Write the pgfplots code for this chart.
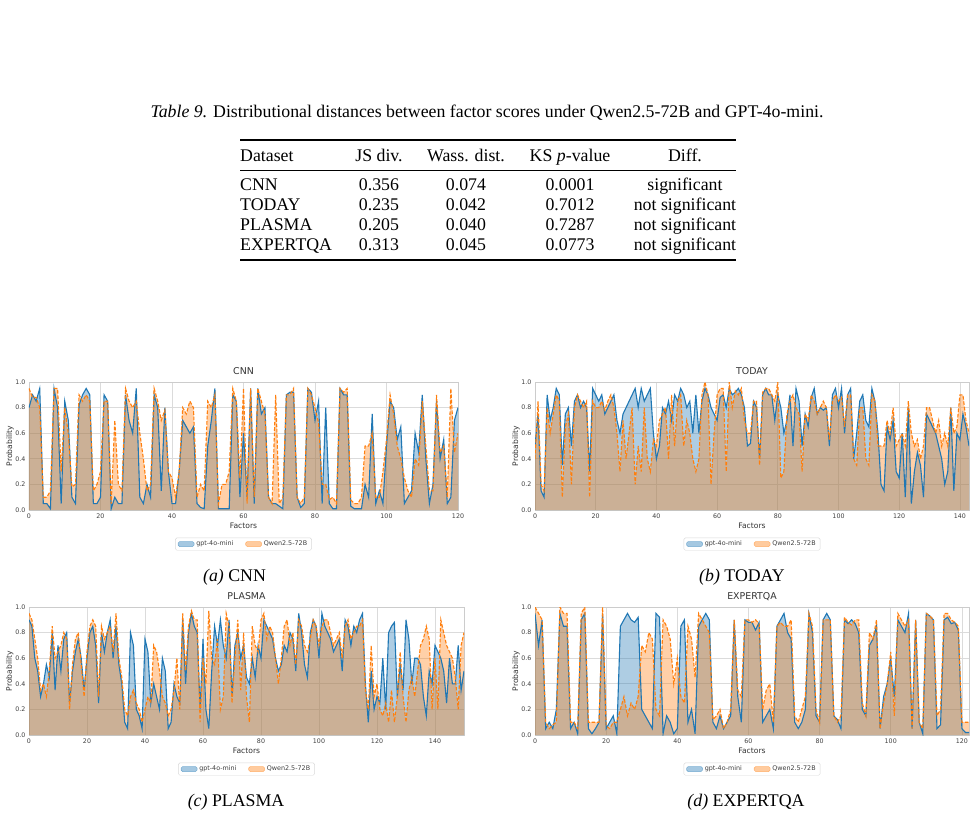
\documentclass[border=0pt]{standalone}
\usepackage{fontspec}
\setmainfont{Liberation Serif}
\newfontfamily\dejavu{DejaVu Sans}
\usepackage{pgfplots}
\usepackage{pgfplotstable}
\pgfplotsset{compat=1.18}
\definecolor{cblue}{HTML}{1F77B4}
\definecolor{corange}{HTML}{FF7F0E}
\newcommand\tf{\fontsize{17.8}{20}\selectfont}

\pgfplotstableread[row sep=\\]{y\\
0.80\\0.90\\0.85\\0.95\\0.05\\0.05\\0.01\\0.95\\0.80\\0.05\\
0.85\\0.70\\0.10\\0.05\\0.82\\0.90\\0.95\\0.90\\0.05\\0.05\\
0.10\\0.90\\0.85\\0.01\\0.10\\0.05\\0.05\\0.90\\0.70\\0.60\\
0.95\\0.10\\0.05\\0.20\\0.10\\0.90\\0.80\\0.15\\0.80\\0.30\\
0.05\\0.05\\0.30\\0.70\\0.65\\0.60\\0.65\\0.05\\0.02\\0.01\\
0.50\\0.70\\0.95\\0.01\\0.01\\0.01\\0.01\\0.90\\0.85\\0.10\\
0.60\\0.10\\0.95\\0.05\\0.95\\0.75\\0.80\\0.10\\0.05\\0.05\\
0.03\\0.01\\0.90\\0.92\\0.92\\0.10\\0.02\\0.05\\0.95\\0.92\\
0.70\\0.85\\0.05\\0.80\\0.05\\0.01\\0.01\\0.95\\0.90\\0.90\\
0.03\\0.01\\0.01\\0.01\\0.20\\0.10\\0.75\\0.05\\0.15\\0.05\\
0.50\\0.85\\0.80\\0.55\\0.65\\0.05\\0.10\\0.15\\0.60\\0.45\\
0.90\\0.40\\0.05\\0.20\\0.85\\0.40\\0.55\\0.05\\0.10\\0.70\\0.80\\}\cnnG
\pgfplotstableread[row sep=\\]{y\\
0.95\\0.88\\0.88\\0.80\\0.10\\0.10\\0.15\\0.95\\0.95\\0.30\\
0.80\\0.60\\0.18\\0.20\\0.90\\0.85\\0.90\\0.85\\0.15\\0.20\\
0.30\\0.85\\0.85\\0.05\\0.70\\0.20\\0.15\\0.95\\0.85\\0.80\\
0.85\\0.60\\0.40\\0.15\\0.20\\0.95\\0.85\\0.70\\0.78\\0.30\\
0.25\\0.10\\0.30\\0.80\\0.75\\0.85\\0.80\\0.10\\0.20\\0.15\\
0.85\\0.80\\0.90\\0.05\\0.20\\0.20\\0.30\\0.95\\0.85\\0.25\\
0.95\\0.05\\0.95\\0.10\\0.95\\0.85\\0.75\\0.10\\0.05\\0.90\\
0.05\\0.10\\0.90\\0.90\\0.95\\0.10\\0.05\\0.10\\0.95\\0.90\\
0.80\\0.68\\0.20\\0.20\\0.08\\0.10\\0.05\\0.95\\0.92\\0.95\\
0.08\\0.05\\0.05\\0.10\\0.50\\0.50\\0.60\\0.10\\0.10\\0.30\\
0.55\\0.90\\0.75\\0.50\\0.40\\0.25\\0.15\\0.10\\0.40\\0.35\\
0.85\\0.50\\0.15\\0.15\\0.90\\0.45\\0.50\\0.10\\0.95\\0.45\\0.60\\}\cnnQ

\pgfplotstableread[row sep=\\]{y\\
0.50\\0.75\\0.15\\0.10\\0.90\\0.70\\0.80\\0.95\\0.90\\0.35\\
0.75\\0.80\\0.50\\0.85\\0.90\\0.80\\0.85\\0.80\\0.30\\0.95\\
0.90\\0.85\\0.90\\0.75\\0.80\\0.85\\0.90\\0.70\\0.60\\0.75\\
0.80\\0.85\\0.90\\0.95\\0.80\\0.95\\0.85\\0.90\\0.95\\0.60\\
0.40\\0.50\\0.80\\0.75\\0.85\\0.70\\0.90\\0.85\\0.95\\0.90\\
0.80\\0.85\\0.60\\0.90\\0.60\\0.85\\0.95\\0.90\\0.80\\0.75\\
0.70\\0.88\\0.90\\0.80\\0.95\\0.90\\0.92\\0.95\\0.90\\0.80\\
0.50\\0.52\\0.85\\0.80\\0.40\\0.90\\0.95\\0.90\\0.90\\0.70\\
0.90\\0.80\\0.60\\0.70\\0.90\\0.50\\0.95\\0.85\\0.50\\0.75\\
0.65\\0.88\\0.95\\0.75\\0.80\\0.78\\0.80\\0.50\\0.90\\0.95\\
0.80\\0.95\\0.60\\0.90\\0.95\\0.40\\0.60\\0.85\\0.90\\0.70\\
0.65\\0.95\\0.85\\0.60\\0.20\\0.15\\0.65\\0.55\\0.70\\0.30\\
0.25\\0.60\\0.10\\0.80\\0.05\\0.30\\0.45\\0.35\\0.10\\0.75\\
0.70\\0.65\\0.60\\0.50\\0.40\\0.20\\0.30\\0.80\\0.15\\0.60\\
0.55\\0.75\\0.65\\0.50\\}\todG
\pgfplotstableread[row sep=\\]{y\\
0.40\\0.85\\0.20\\0.15\\0.80\\0.60\\0.75\\0.90\\0.85\\0.10\\
0.65\\0.75\\0.20\\0.80\\0.90\\0.85\\0.80\\0.85\\0.10\\0.85\\
0.80\\0.80\\0.85\\0.78\\0.85\\0.90\\0.80\\0.60\\0.30\\0.70\\
0.40\\0.60\\0.80\\0.20\\0.50\\0.30\\0.80\\0.40\\0.30\\0.55\\
0.50\\0.70\\0.75\\0.80\\0.40\\0.90\\0.50\\0.85\\0.90\\0.50\\
0.70\\0.60\\0.40\\0.30\\0.40\\0.90\\1.00\\0.90\\0.20\\0.60\\
0.90\\0.95\\0.95\\0.30\\1.00\\0.80\\0.93\\0.90\\0.95\\0.70\\
0.60\\0.60\\0.85\\0.85\\0.35\\0.92\\0.95\\0.95\\0.90\\0.85\\
1.00\\0.25\\0.30\\0.75\\0.85\\0.90\\0.80\\0.75\\0.30\\0.75\\
0.70\\0.90\\0.85\\0.75\\0.80\\0.85\\0.80\\0.55\\0.85\\0.90\\
0.85\\0.88\\0.65\\0.90\\0.90\\0.40\\0.35\\0.80\\0.80\\0.40\\
0.35\\0.90\\0.85\\0.50\\0.50\\0.50\\0.70\\0.60\\0.80\\0.50\\
0.55\\0.60\\0.50\\0.85\\0.60\\0.50\\0.55\\0.40\\0.50\\0.80\\
0.80\\0.70\\0.60\\0.70\\0.50\\0.60\\0.50\\0.80\\0.60\\0.65\\
0.90\\0.90\\0.70\\0.60\\}\todQ

\pgfplotstableread[row sep=\\]{y\\
0.90\\0.85\\0.60\\0.50\\0.30\\0.40\\0.55\\0.45\\0.80\\0.35\\
0.70\\0.50\\0.75\\0.80\\0.25\\0.50\\0.65\\0.75\\0.60\\0.35\\
0.60\\0.80\\0.85\\0.70\\0.25\\0.80\\0.65\\0.80\\0.90\\0.60\\
0.85\\0.55\\0.40\\0.10\\0.05\\0.80\\0.70\\0.20\\0.15\\0.05\\
0.75\\0.65\\0.25\\0.40\\0.30\\0.20\\0.60\\0.50\\0.05\\0.10\\
0.40\\0.30\\0.25\\0.90\\0.40\\0.80\\0.95\\0.85\\0.80\\0.20\\
0.75\\0.20\\0.05\\0.50\\0.85\\0.70\\0.90\\0.70\\0.60\\0.90\\
0.30\\0.70\\0.80\\0.60\\0.70\\0.45\\0.40\\0.60\\0.45\\0.70\\
0.60\\0.90\\0.85\\0.80\\0.75\\0.60\\0.50\\0.55\\0.70\\0.65\\
0.80\\0.75\\0.50\\0.95\\0.80\\0.55\\0.45\\0.80\\0.90\\0.85\\
0.60\\0.95\\0.85\\0.80\\0.75\\0.65\\0.70\\0.75\\0.50\\0.90\\
0.85\\0.70\\0.85\\0.80\\0.90\\0.95\\0.40\\0.10\\0.50\\0.20\\
0.30\\0.25\\0.60\\0.20\\0.80\\0.85\\0.88\\0.30\\0.55\\0.35\\
0.90\\0.75\\0.40\\0.60\\0.60\\0.55\\0.30\\0.15\\0.50\\0.40\\
0.70\\0.65\\0.60\\0.50\\0.25\\0.60\\0.40\\0.40\\0.70\\0.35\\0.50\\}\plaG
\pgfplotstableread[row sep=\\]{y\\
0.95\\0.90\\0.75\\0.60\\0.35\\0.40\\0.30\\0.50\\0.85\\0.60\\
0.65\\0.70\\0.80\\0.75\\0.20\\0.55\\0.75\\0.80\\0.55\\0.30\\
0.65\\0.85\\0.90\\0.85\\0.30\\0.85\\0.75\\0.80\\0.85\\0.65\\
0.95\\0.60\\0.45\\0.20\\0.15\\0.30\\0.35\\0.25\\0.20\\0.10\\
0.20\\0.30\\0.25\\0.70\\0.65\\0.50\\0.30\\0.25\\0.15\\0.20\\
0.35\\0.60\\0.20\\0.95\\0.50\\0.85\\0.97\\0.90\\0.90\\0.10\\
0.60\\0.40\\0.97\\0.60\\0.55\\0.75\\0.20\\0.30\\0.95\\0.85\\
0.25\\0.60\\0.90\\0.35\\0.80\\0.30\\0.10\\0.85\\0.70\\0.65\\
0.90\\0.95\\0.75\\0.85\\0.80\\0.60\\0.40\\0.60\\0.85\\0.90\\
0.70\\0.80\\0.55\\0.90\\0.85\\0.70\\0.65\\0.75\\0.90\\0.85\\
0.70\\0.85\\0.90\\0.90\\0.80\\0.70\\0.75\\0.80\\0.60\\0.85\\
0.90\\0.75\\0.80\\0.85\\0.85\\0.90\\0.35\\0.20\\0.70\\0.30\\
0.40\\0.20\\0.15\\0.25\\0.10\\0.35\\0.10\\0.30\\0.65\\0.30\\
0.10\\0.35\\0.45\\0.30\\0.50\\0.70\\0.75\\0.85\\0.75\\0.20\\
0.60\\0.20\\0.90\\0.80\\0.70\\0.65\\0.60\\0.45\\0.20\\0.70\\0.80\\}\plaQ

\pgfplotstableread[row sep=\\]{y\\
0.95\\0.70\\0.90\\0.05\\0.10\\0.05\\0.20\\0.95\\0.85\\0.85\\
0.05\\0.10\\0.01\\0.90\\0.95\\0.05\\0.01\\0.05\\0.10\\0.95\\
0.05\\0.10\\0.15\\0.01\\0.85\\0.90\\0.95\\0.90\\0.88\\0.92\\
0.20\\0.15\\0.10\\0.05\\0.95\\0.92\\0.01\\0.15\\0.10\\0.01\\
0.05\\0.85\\0.90\\0.10\\0.20\\0.01\\0.85\\0.90\\0.95\\0.90\\
0.10\\0.05\\0.15\\0.05\\0.10\\0.15\\0.90\\0.30\\0.10\\0.90\\
0.88\\0.88\\0.82\\0.88\\0.10\\0.15\\0.20\\0.05\\0.85\\0.90\\
0.95\\0.80\\0.75\\0.10\\0.05\\0.10\\0.20\\0.95\\0.80\\0.15\\
0.10\\0.90\\0.95\\0.90\\0.15\\0.12\\0.05\\0.90\\0.87\\0.90\\
0.87\\0.80\\0.20\\0.15\\0.70\\0.75\\0.85\\0.05\\0.30\\0.40\\
0.60\\0.30\\0.90\\0.85\\0.80\\0.95\\0.05\\0.90\\0.10\\0.01\\
0.95\\0.93\\0.90\\0.05\\0.08\\0.90\\0.92\\0.87\\0.88\\0.82\\
0.05\\0.02\\0.02\\}\expG
\pgfplotstableread[row sep=\\]{y\\
1.00\\0.95\\0.90\\0.10\\0.05\\0.08\\0.10\\1.00\\0.95\\0.95\\
0.10\\0.10\\0.05\\0.95\\1.00\\0.10\\0.10\\0.10\\0.10\\1.00\\
0.07\\0.05\\0.10\\0.10\\0.20\\0.30\\0.15\\0.25\\0.20\\0.30\\
0.70\\0.65\\0.80\\0.75\\0.20\\0.15\\0.90\\0.85\\0.75\\0.40\\
0.60\\0.30\\0.25\\0.85\\0.75\\0.45\\0.95\\0.90\\0.85\\0.80\\
0.12\\0.15\\0.20\\0.05\\0.10\\0.20\\0.90\\0.35\\0.30\\0.90\\
0.90\\0.88\\0.90\\0.87\\0.20\\0.35\\0.40\\0.10\\0.85\\0.88\\
0.85\\0.85\\0.90\\0.15\\0.10\\0.20\\0.30\\0.95\\0.85\\0.20\\
0.10\\0.90\\0.90\\0.90\\0.15\\0.10\\0.15\\0.92\\0.88\\0.86\\
0.90\\0.90\\0.25\\0.15\\0.80\\0.75\\0.90\\0.05\\0.25\\0.40\\
0.65\\0.15\\0.95\\0.90\\0.85\\0.90\\0.05\\0.90\\0.10\\0.05\\
0.95\\0.93\\0.90\\0.15\\0.20\\0.95\\0.95\\0.90\\0.88\\0.85\\
0.10\\0.10\\0.10\\}\expQ

\pgfplotsset{
  panel/.style={
    scale only axis, height=128pt, anchor=south west,
    ymin=0, ymax=1, xmin=0,
    axis line style={draw=black!20, line width=0.8pt},
    grid=major, major grid style={draw=black!14, line width=0.7pt},
    tick style={draw=none}, major tick length=0pt,
    ytick={0,0.2,0.4,0.6,0.8,1}, yticklabels={0.0,0.2,0.4,0.6,0.8,1.0},
    /pgf/number format/assume math mode=true,
    tick label style={font=\dejavu\fontsize{6.3}{7}\selectfont, text=black!75},
    xlabel={Factors}, ylabel={Probability},
    label style={font=\dejavu\fontsize{7.6}{8}\selectfont, text=black!80},
    xlabel style={at={(axis description cs:0.5,-0.125)}, anchor=center},
    ylabel style={at={(axis description cs:-0.044,0.5)}, anchor=center},
    title style={font=\dejavu\fontsize{9.4}{10}\selectfont, text=black!80, at={(0.5,1.036)}, anchor=center},
    legend style={at={(0.5,-0.266)}, anchor=center, legend columns=2, draw=black!15,
      rounded corners=1.5pt, font=\dejavu\fontsize{6.4}{7}\selectfont, text=black!75,
      inner xsep=2.5pt, inner ysep=1pt, /tikz/every even column/.append style={column sep=10pt}},
    legend cell align=left,
  },
  gfill/.style={draw=none, fill=cblue, fill opacity=0.36, forget plot},
  qfill/.style={draw=none, fill=corange, fill opacity=0.36, forget plot},
  gline/.style={cblue, line width=1.1pt, forget plot},
  qline/.style={corange, line width=1.1pt, dash pattern=on 3.6pt off 1.8pt, forget plot},
  glegend/.style={legend image code/.code={\draw[fill=cblue, fill opacity=0.4, draw=cblue, draw opacity=0.5] (0pt,-2.5pt) rectangle (16pt,2.5pt);}},
  qlegend/.style={legend image code/.code={\draw[fill=corange, fill opacity=0.4, draw=corange, draw opacity=0.5] (0pt,-2.5pt) rectangle (16pt,2.5pt);}},
}

\newcommand\panelplots[2]{%
  \addplot[gfill] table[x expr=\coordindex, y index=0]{#1} \closedcycle;
  \addplot[qfill] table[x expr=\coordindex, y index=0]{#2} \closedcycle;
  \addplot[gline] table[x expr=\coordindex, y index=0]{#1};
  \addplot[qline] table[x expr=\coordindex, y index=0]{#2};
  \addlegendimage{glegend}\addlegendentry{gpt-4o-mini}
  \addlegendimage{qlegend}\addlegendentry{Qwen2.5-72B}
}

\begin{document}
\begin{tikzpicture}
\fill[white] (0pt,0pt) rectangle (976pt,-828pt);
\useasboundingbox (0pt,0pt) rectangle (976pt,-828pt);

% table
\node at (487pt,-113pt) {\tf\textit{Table 9.} Distributional distances between factor scores under Qwen2.5-72B and GPT-4o-mini.};
\draw[line width=1.1pt] (240pt,-140pt) -- (736pt,-140pt);
\draw[line width=0.65pt] (240pt,-170pt) -- (736pt,-170pt);
\draw[line width=1.1pt] (240pt,-260pt) -- (736pt,-260pt);
\begin{scope}[every node/.style={anchor=base, inner sep=0pt, font=\tf}]
\node[anchor=base west] at (240pt,-161.5pt) {Dataset};
\node at (379pt,-161.5pt) {JS div.};
\node at (466pt,-161.5pt) {Wass. dist.};
\node at (570pt,-161.5pt) {KS \textit{p}-value};
\node at (685pt,-161.5pt) {Diff.};
\node[anchor=base west] at (240pt,-190.5pt) {CNN};
\node at (379pt,-190.5pt) {0.356};
\node at (466pt,-190.5pt) {0.074};
\node at (570pt,-190.5pt) {0.0001};
\node at (685pt,-190.5pt) {significant};
\node[anchor=base west] at (240pt,-210.5pt) {TODAY};
\node at (379pt,-210.5pt) {0.235};
\node at (466pt,-210.5pt) {0.042};
\node at (570pt,-210.5pt) {0.7012};
\node at (685pt,-210.5pt) {not significant};
\node[anchor=base west] at (240pt,-230.5pt) {PLASMA};
\node at (379pt,-230.5pt) {0.205};
\node at (466pt,-230.5pt) {0.040};
\node at (570pt,-230.5pt) {0.7287};
\node at (685pt,-230.5pt) {not significant};
\node[anchor=base west] at (240pt,-250.5pt) {EXPERTQA};
\node at (379pt,-250.5pt) {0.313};
\node at (466pt,-250.5pt) {0.045};
\node at (570pt,-250.5pt) {0.0773};
\node at (685pt,-250.5pt) {not significant};
\node at (234.5pt,-581pt) {\textit{(a)} CNN};
\node at (742pt,-581pt) {\textit{(b)} TODAY};
\node at (236pt,-806pt) {\textit{(c)} PLASMA};
\node at (746pt,-806pt) {\textit{(d)} EXPERTQA};
\end{scope}

\begin{axis}[panel, at={(29pt,-510pt)}, width=429pt, xmax=120, xtick={0,20,...,120}, title={CNN}]
\panelplots{\cnnG}{\cnnQ}
\end{axis}
\begin{axis}[panel, at={(535pt,-510pt)}, width=434pt, xmax=143, xtick={0,20,...,140}, title={TODAY}]
\panelplots{\todG}{\todQ}
\end{axis}
\begin{axis}[panel, at={(29pt,-735pt)}, width=435pt, xmax=150, xtick={0,20,...,140}, title={PLASMA}]
\panelplots{\plaG}{\plaQ}
\end{axis}
\begin{axis}[panel, at={(535pt,-735pt)}, width=434pt, xmax=122, xtick={0,20,...,120}, title={EXPERTQA}]
\panelplots{\expG}{\expQ}
\end{axis}
\end{tikzpicture}
\end{document}
